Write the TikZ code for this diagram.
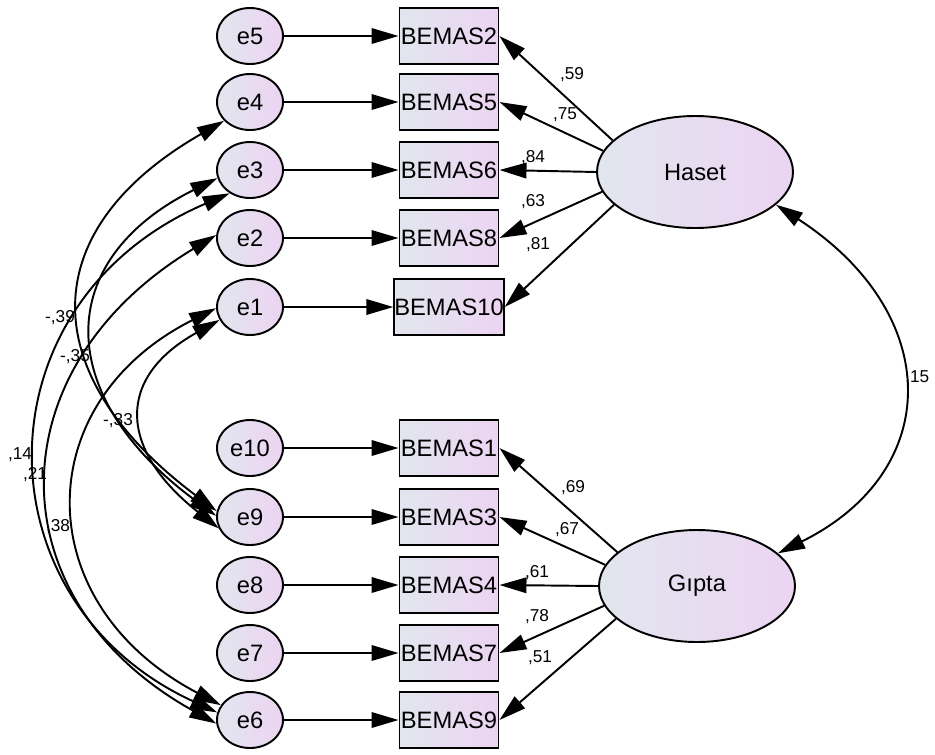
\documentclass[tikz,border=0pt]{standalone}
\usepackage{fontspec}
\setmainfont{Liberation Sans}
\usetikzlibrary{arrows.meta,shapes.geometric}
\definecolor{shadeL}{RGB}{226,230,238}
\definecolor{shadeR}{RGB}{236,212,242}
\tikzset{x=0.2mm, y=-0.2mm,
    varfont/.style={font=\fontsize{13.5}{15}\selectfont},
    obs/.style={draw, line width=1.1pt, rectangle, minimum width=19.8mm,
        minimum height=11.2mm, inner sep=0pt, left color=shadeL,
        right color=shadeR, varfont},
    err/.style={draw, line width=1.1pt, ellipse, minimum width=13.2mm,
        minimum height=11.2mm, inner sep=0pt, left color=shadeL,
        right color=shadeR, varfont},
    lat/.style={err, minimum width=39.2mm, minimum height=22.4mm},
    load/.style={line width=1.1pt, -{Triangle[length=5.4mm,width=3.1mm]}},
    cov/.style={line width=1.1pt,
        {Triangle[length=5.4mm,width=3.1mm]}-{Triangle[length=5.4mm,width=3.1mm]}},
    coef/.style={font=\fontsize{9.8}{11}\selectfont, inner sep=0pt},
    }

\begin{document}
\begin{tikzpicture}
	\useasboundingbox (0,0) rectangle (935,754);
	% error terms and items
	\foreach \e/\b/\y in {5/2/36,4/5/102,3/6/170,2/8/238,1/10/307,
	                      10/1/448,9/3/517,8/4/585,7/7/653,6/9/720}{
		\node[err] (e\e) at (250,\y) {e\e};
		\node[obs] (b\b) at (449,\y) {BEMAS\b};
		\draw[load] (e\e) -- (b\b);
	}
	% factors
	\node[lat] (Haset) at (695,172) {Haset};
	\node[lat] (Gipta) at (697,586) {Gıpta};
	\foreach \b/\a in {2/159,5/167,6/180,8/192,10/202}
		\draw[load] (Haset.\a) -- (b\b.east);
	\foreach \b/\a in {1/157,3/167,4/180,7/192,9/202}
		\draw[load] (Gipta.\a) -- (b\b.east);
	% loadings
	\node[coef] (l59) at (572,75) {,59};
	\node[coef] (l75) at (565,115) {,75};
	\node[coef] (l84) at (533,158) {,84};
	\node[coef] (l63) at (533,202) {,63};
	\node[coef] (l81) at (538,245) {,81};
	\node[coef] (l69) at (573,488) {,69};
	\node[coef] (l67) at (567,530) {,67};
	\node[coef] (l61) at (537,573) {,61};
	\node[coef] (l78) at (537,617) {,78};
	\node[coef] (l51) at (540,658) {,51};
	% covariances
	\draw[cov] (Haset.338) .. controls (944,314) and (944,471) .. (Gipta.22);
	\node[coef, anchor=west] (c15) at (905,378) {,15};
	\draw[cov] (e4.216) .. controls (34,230) and (34,374) .. (e9.170);
	\draw[cov] (e3.194) .. controls (53,260) and (53,395) .. (e9.178);
	\draw[cov] (e3.229) .. controls (-24,302) and (-24,601) .. (e6.167);
	\draw[cov] (e2.175) .. controls (-6,369) and (-6,600) .. (e6.186);
	\draw[cov] (e1.203) .. controls (117,377) and (117,448) .. (e9.200);
	\draw[cov] (e1.182) .. controls (28,403) and (28,604) .. (e6.153);
	\node[coef] (c39) at (60,318) {-,39};
	\node[coef] (c35) at (75,357) {-,35};
	\node[coef] (c33) at (118,421) {-,33};
	\node[coef] (c14) at (20,455) {,14};
	\node[coef] (c21) at (35,475) {,21};
	\node[coef] (c38) at (58,527) {,38};
\end{tikzpicture}
\end{document}
